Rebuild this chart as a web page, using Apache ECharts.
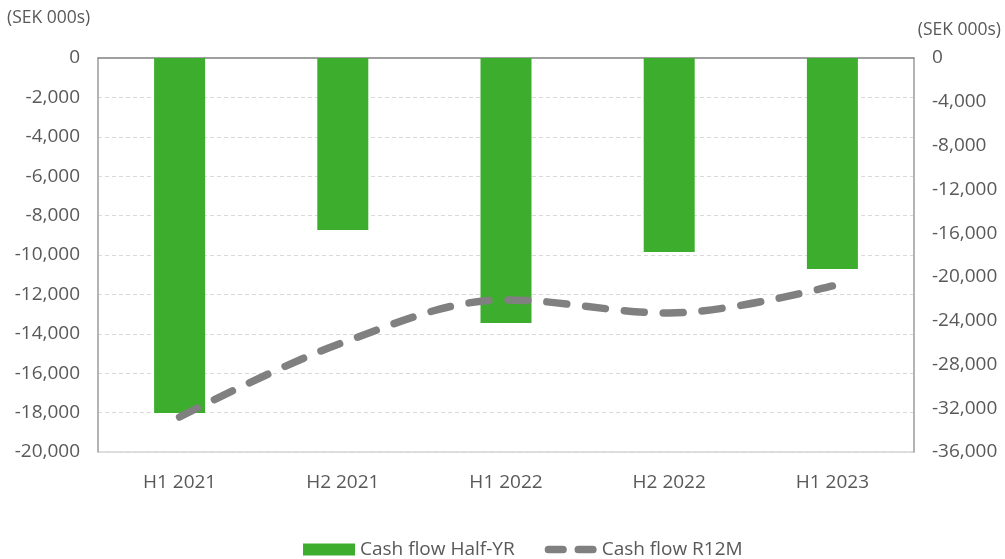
<!DOCTYPE html>
<html><head><meta charset="utf-8">
<script src="https://cdn.jsdelivr.net/npm/echarts@6/dist/echarts.min.js"></script>
<style>html,body{margin:0;padding:0;background:#fff}#c{width:1005px;height:559px}</style>
</head><body><div id="c"></div>
<script>
var categories = ['H1 2021', 'H2 2021', 'H1 2022', 'H2 2022', 'H1 2023'];
var halfYear = [-18020, -8730, -13450, -9850, -10710];
var r12m = [-32800, -26000, -22100, -23300, -20830];
var leftTicks = [0, -2000, -4000, -6000, -8000, -10000, -12000, -14000, -16000, -18000, -20000];
var rightTicks = [0, -4000, -8000, -12000, -16000, -20000, -24000, -28000, -32000, -36000];
var unitLabel = '(SEK 000s)';

var FONT = 'Open Sans';
var TXT = '#595959';
function fmt(v){ return v.toLocaleString('en-US'); }

var dashIcon = 'path://M0,0 h0.01 v0.01 h-0.01 Z M54,12 h-0.01 v-0.01 h0.01 Z ' +
  'M4,2 H19 A4,4 0 0 1 19,10 H4 A4,4 0 0 1 4,2 Z ' +
  'M35,2 H50 A4,4 0 0 1 50,10 H35 A4,4 0 0 1 35,2 Z';

var chart = echarts.init(document.getElementById('c'), null, {renderer: 'canvas'});
chart.setOption({
  animation: false,
  backgroundColor: '#fff',
  textStyle: {fontFamily: FONT},
  grid: {left: 98, right: 91, top: 58, bottom: 107, show: true, borderColor: '#bfbfbf', borderWidth: 1, backgroundColor: 'transparent'},
  graphic: [
    {type: 'text', left: 7, top: 9, style: {text: unitLabel, font: '17.5px "' + FONT + '"', fill: TXT}},
    {type: 'text', right: 4, top: 21, style: {text: unitLabel, font: '17.5px "' + FONT + '"', fill: TXT}}
  ],
  legend: {
    top: 535, left: 298, itemGap: 30, itemWidth: 52, itemHeight: 12,
    textStyle: {color: TXT, fontSize: 19, fontFamily: FONT},
    data: [
      {name: 'Cash flow Half-YR', icon: 'rect'},
      {name: 'Cash flow R12M', icon: dashIcon, itemStyle: {color: '#808080'}}
    ]
  },
  xAxis: {
    type: 'category', data: categories,
    axisLine: {lineStyle: {color: '#8c8c8c', width: 1.5}},
    axisTick: {show: false},
    axisLabel: {color: TXT, fontSize: 19, margin: 21, fontFamily: FONT}
  },
  yAxis: [
    {
      type: 'value', min: -20000, max: 0, interval: 2000,
      axisLine: {show: true, lineStyle: {color: '#a6a6a6', width: 1.5}},
      axisTick: {show: false},
      axisLabel: {color: TXT, fontSize: 19, margin: 18, fontFamily: FONT, formatter: fmt},
      splitLine: {show: true, lineStyle: {color: '#d9d9d9', type: [4, 3]}}
    },
    {
      type: 'value', min: -36000, max: 0, interval: 4000, position: 'right',
      axisLine: {show: true, lineStyle: {color: '#a6a6a6', width: 1.5}},
      axisTick: {show: false},
      axisLabel: {color: TXT, fontSize: 19, margin: 18, fontFamily: FONT, formatter: fmt},
      splitLine: {show: false}
    }
  ],
  series: [
    {
      name: 'Cash flow Half-YR', type: 'bar', data: halfYear, yAxisIndex: 0,
      barWidth: 51, itemStyle: {color: '#3dad2d'}
    },
    {
      name: 'Cash flow R12M', type: 'line', data: r12m, yAxisIndex: 1,
      smooth: 0.35, symbol: 'none', z: 5,
      itemStyle: {color: '#808080'},
      lineStyle: {color: '#808080', width: 7.5, type: [20, 19], cap: 'round'}
    }
  ]
});
</script>
</body></html>
